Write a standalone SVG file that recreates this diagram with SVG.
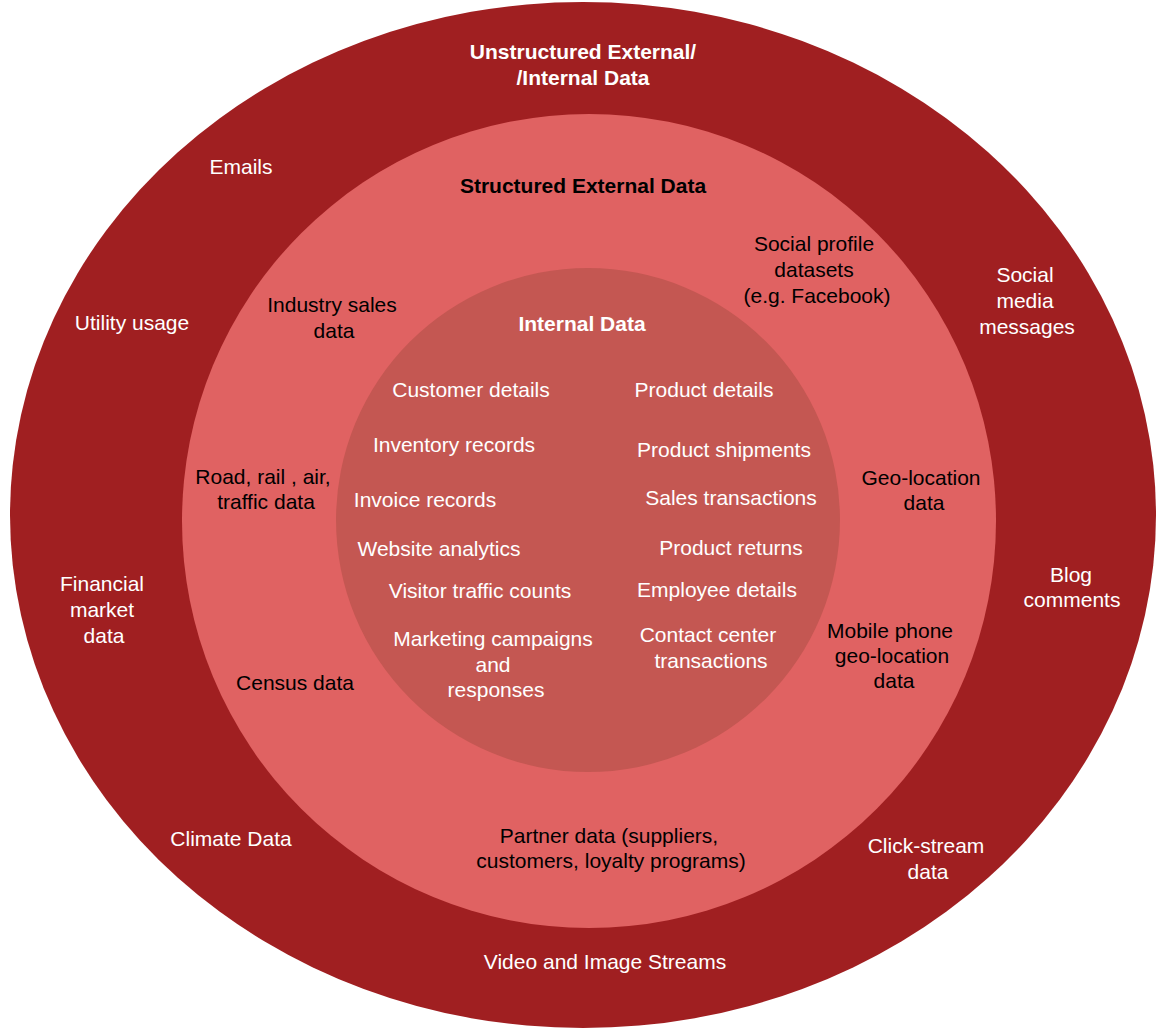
<svg xmlns="http://www.w3.org/2000/svg" width="1156" height="1029" viewBox="0 0 1156 1029">
  <style>
    text { font-family: "Liberation Sans", Arial, sans-serif; font-size: 21px; text-anchor: middle; }
    .w { fill: #ffffff; }
    .k { fill: #000000; }
    .b { font-weight: bold; }
  </style>
  <rect width="1156" height="1029" fill="#ffffff"/>

  <!-- Outer ring: unstructured data -->
  <g id="ring-unstructured">
    <ellipse cx="583" cy="515" rx="573" ry="513" fill="#A01F21"/>
    <text class="w b" x="583" y="59">Unstructured External/</text>
    <text class="w b" x="583" y="85">/Internal Data</text>
    <text class="w" x="241" y="174">Emails</text>
    <text class="w" x="132" y="330">Utility usage</text>
    <text class="w" x="1025" y="282">Social</text>
    <text class="w" x="1025" y="308">media</text>
    <text class="w" x="1027" y="334">messages</text>
    <text class="w" x="102" y="591">Financial</text>
    <text class="w" x="102" y="617">market</text>
    <text class="w" x="104" y="643">data</text>
    <text class="w" x="1071" y="582">Blog</text>
    <text class="w" x="1072" y="607">comments</text>
    <text class="w" x="231" y="846">Climate Data</text>
    <text class="w" x="926" y="853">Click-stream</text>
    <text class="w" x="928" y="879">data</text>
    <text class="w" x="605" y="969">Video and Image Streams</text>
  </g>

  <!-- Middle ring: structured external data -->
  <g id="ring-structured">
    <circle cx="589" cy="521" r="407" fill="#E06262"/>
    <text class="k b" x="583" y="193">Structured External Data</text>
    <text class="k" x="814" y="251">Social profile</text>
    <text class="k" x="814" y="277">datasets</text>
    <text class="k" x="817" y="303">(e.g. Facebook)</text>
    <text class="k" x="332" y="312">Industry sales</text>
    <text class="k" x="334" y="338">data</text>
    <text class="k" x="263" y="484">Road, rail , air,</text>
    <text class="k" x="266" y="509">traffic data</text>
    <text class="k" x="921" y="485">Geo-location</text>
    <text class="k" x="924" y="510">data</text>
    <text class="k" x="890" y="638">Mobile phone</text>
    <text class="k" x="892" y="663">geo-location</text>
    <text class="k" x="894" y="688">data</text>
    <text class="k" x="295" y="690">Census data</text>
    <text class="k" x="609" y="843">Partner data (suppliers,</text>
    <text class="k" x="611" y="868">customers, loyalty programs)</text>
  </g>

  <!-- Inner circle: internal data -->
  <g id="core-internal">
    <circle cx="588" cy="520" r="252" fill="#C45752"/>
    <text class="w b" x="582" y="331">Internal Data</text>
    <text class="w" x="471" y="397">Customer details</text>
    <text class="w" x="704" y="397">Product details</text>
    <text class="w" x="454" y="452">Inventory records</text>
    <text class="w" x="724" y="457">Product shipments</text>
    <text class="w" x="425" y="507">Invoice records</text>
    <text class="w" x="731" y="505">Sales transactions</text>
    <text class="w" x="439" y="556">Website analytics</text>
    <text class="w" x="731" y="555">Product returns</text>
    <text class="w" x="480" y="598">Visitor traffic counts</text>
    <text class="w" x="717" y="597">Employee details</text>
    <text class="w" x="493" y="646">Marketing campaigns</text>
    <text class="w" x="493" y="672">and</text>
    <text class="w" x="496" y="697">responses</text>
    <text class="w" x="708" y="642">Contact center</text>
    <text class="w" x="711" y="668">transactions</text>
  </g>

  <!-- No connectors in this diagram -->
  <g id="connectors"/>
</svg>
